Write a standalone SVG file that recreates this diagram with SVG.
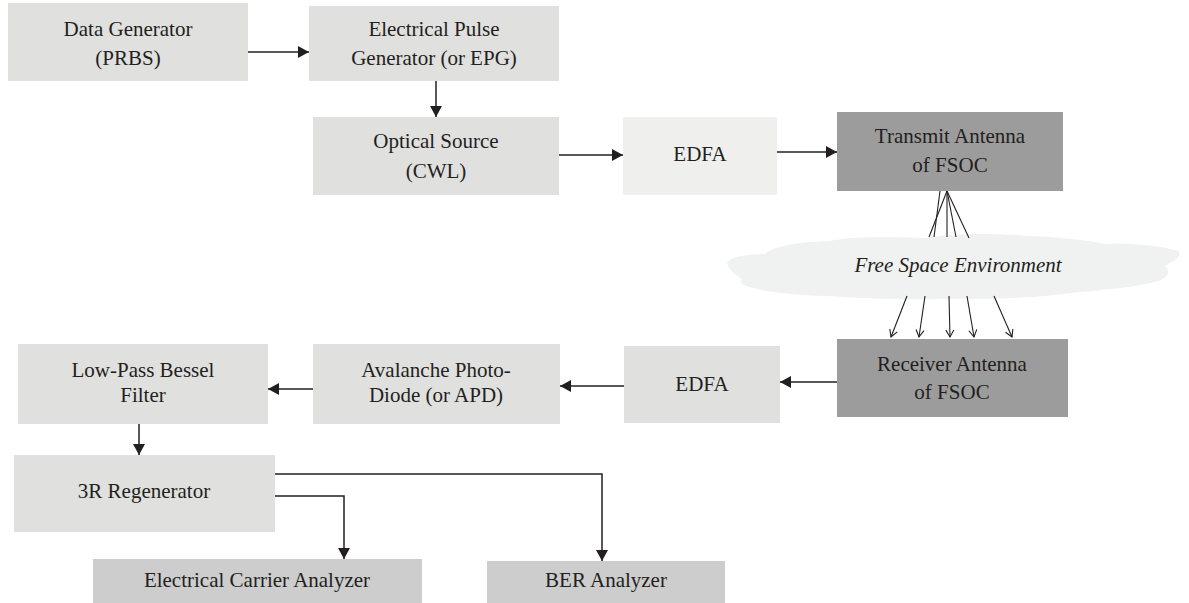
<svg xmlns="http://www.w3.org/2000/svg" width="1189" height="603" viewBox="0 0 1189 603">
<defs>
<style>
.box{fill:#e0e0df}
.lite{fill:#efefee}
.dark{fill:#9c9c9c}
.ana{fill:#cdcdcd}
.ln{stroke:#231f20;stroke-width:1.5;fill:none}
.ray{stroke:#231f20;stroke-width:1.1;fill:none}
</style>
<marker id="ah" markerUnits="userSpaceOnUse" markerWidth="12" markerHeight="12" refX="11" refY="6" orient="auto">
<path d="M0,0 L11,6 L0,12 z" fill="#231f20"/>
</marker>
<marker id="oh" markerUnits="userSpaceOnUse" markerWidth="10" markerHeight="10" refX="8" refY="5" orient="auto">
<path d="M1,1 L8,5 L1,9" fill="none" stroke="#231f20" stroke-width="1.1"/>
</marker>
</defs>
<rect width="1189" height="603" fill="#ffffff"/>

<g id="cloud">
<path d="M727,262 C733,256 750,254 765,254 C772,246 800,242 830,241 C850,236 890,237 925,238 C950,233 990,233 1030,236 C1060,237 1085,240 1105,244 C1130,243 1160,245 1178,251 C1184,256 1172,262 1165,266 C1172,272 1168,280 1150,283 C1130,288 1100,290 1070,293 C1040,298 990,299 940,299 C900,300 860,298 825,296 C800,295 775,293 758,289 C742,286 738,282 742,279 C736,275 728,270 727,262 Z" fill="#f0f1f1"/>
</g>

<g id="connectors">
<line class="ln" x1="248" y1="52" x2="309" y2="52" marker-end="url(#ah)"/>
<line class="ln" x1="436" y1="81" x2="436" y2="117" marker-end="url(#ah)"/>
<line class="ln" x1="559" y1="155" x2="623" y2="155" marker-end="url(#ah)"/>
<line class="ln" x1="777" y1="152" x2="837" y2="152" marker-end="url(#ah)"/>
<line class="ln" x1="837" y1="382" x2="780" y2="382" marker-end="url(#ah)"/>
<line class="ln" x1="624" y1="386" x2="560" y2="386" marker-end="url(#ah)"/>
<line class="ln" x1="313" y1="389" x2="268" y2="389" marker-end="url(#ah)"/>
<line class="ln" x1="139" y1="424" x2="139" y2="455" marker-end="url(#ah)"/>
<polyline class="ln" points="275,474 602,474 602,561" marker-end="url(#ah)"/>
<polyline class="ln" points="275,496 344,496 344,559" marker-end="url(#ah)"/>
<line class="ray" x1="940" y1="191" x2="934" y2="237"/>
<line class="ray" x1="947" y1="191" x2="929" y2="237"/>
<line class="ray" x1="947" y1="191" x2="947" y2="237"/>
<line class="ray" x1="947" y1="191" x2="956" y2="237"/>
<line class="ray" x1="947" y1="191" x2="969" y2="238"/>
<line class="ray" x1="907" y1="296" x2="891" y2="337" marker-end="url(#oh)"/>
<line class="ray" x1="925" y1="296" x2="919" y2="337" marker-end="url(#oh)"/>
<line class="ray" x1="949" y1="296" x2="950" y2="337" marker-end="url(#oh)"/>
<line class="ray" x1="967" y1="296" x2="974" y2="337" marker-end="url(#oh)"/>
<line class="ray" x1="994" y1="296" x2="1012" y2="337" marker-end="url(#oh)"/>
</g>

<g font-family="Liberation Serif, Times New Roman, serif" font-size="21" fill="#231f20" text-anchor="middle">
<g id="cloud-label"><text x="958" y="272" font-style="italic">Free Space Environment</text></g>
<g id="data-generator"><rect class="box" x="8" y="3" width="240" height="78"/><text x="128" y="36">Data Generator</text><text x="128" y="65">(PRBS)</text></g>
<g id="epg"><rect class="box" x="309" y="6" width="250" height="75"/><text x="434" y="36">Electrical Pulse</text><text x="434" y="65">Generator (or EPG)</text></g>
<g id="optical-source"><rect class="box" x="313" y="117" width="246" height="78"/><text x="436" y="148">Optical Source</text><text x="436" y="178">(CWL)</text></g>
<g id="edfa-tx"><rect class="lite" x="623" y="117" width="154" height="78"/><text x="700" y="161">EDFA</text></g>
<g id="tx-antenna"><rect class="dark" x="837" y="112" width="226" height="79"/><text x="950" y="143">Transmit Antenna</text><text x="950" y="172">of FSOC</text></g>
<g id="rx-antenna"><rect class="dark" x="837" y="339" width="231" height="78"/><text x="952" y="371">Receiver Antenna</text><text x="952" y="399">of FSOC</text></g>
<g id="edfa-rx"><rect class="box" x="624" y="346" width="156" height="77"/><text x="702" y="391">EDFA</text></g>
<g id="apd"><rect class="box" x="313" y="344" width="247" height="80"/><text x="436" y="377">Avalanche Photo-</text><text x="436" y="402">Diode (or APD)</text></g>
<g id="lpbf"><rect class="box" x="18" y="344" width="250" height="80"/><text x="143" y="377">Low-Pass Bessel</text><text x="143" y="402">Filter</text></g>
<g id="regenerator"><rect class="box" x="14" y="455" width="261" height="77"/><text x="144" y="498">3R Regenerator</text></g>
<g id="eca"><rect class="ana" x="93" y="559" width="329" height="44"/><text x="257" y="587">Electrical Carrier Analyzer</text></g>
<g id="ber"><rect class="ana" x="487" y="561" width="238" height="42"/><text x="606" y="587">BER Analyzer</text></g>
</g>
</svg>
